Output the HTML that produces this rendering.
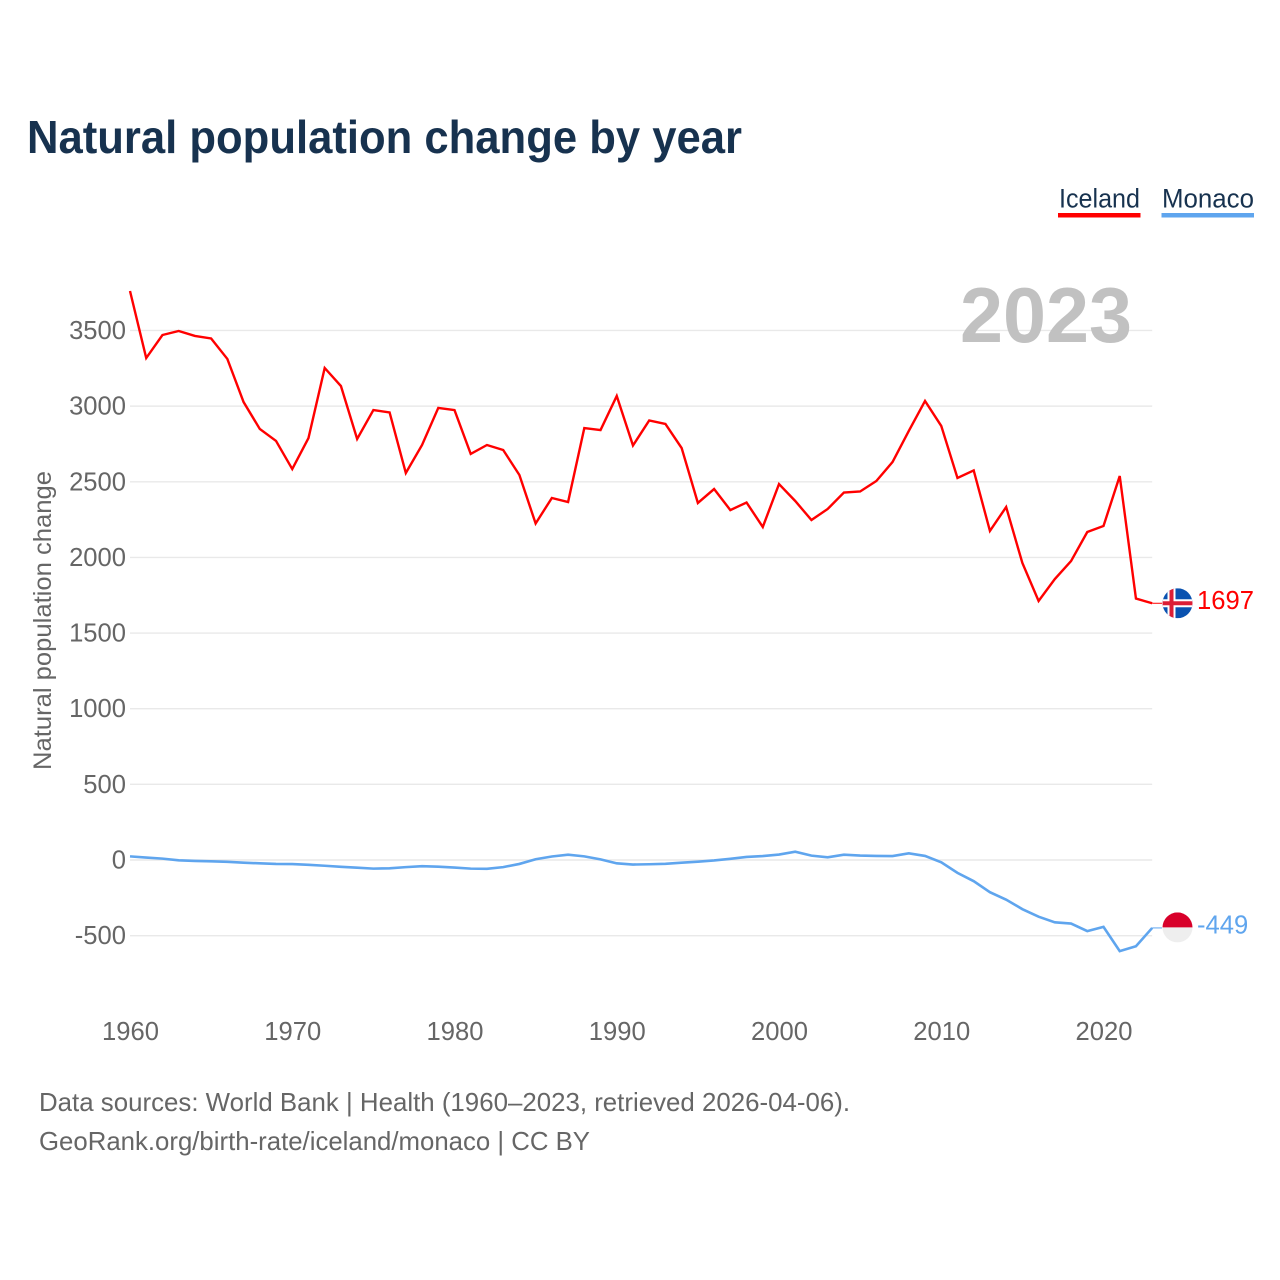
<!DOCTYPE html>
<html lang="en">
<head>
<meta charset="utf-8">
<title>Natural population change by year</title>
<style>
html,body{margin:0;padding:0;background:#fff;}
svg{display:block;font-family:"Liberation Sans",sans-serif;}
</style>
</head>
<body>
<svg id="chart" xmlns="http://www.w3.org/2000/svg" width="1280" height="1280" viewBox="0 0 1280 1280">
  <rect x="0" y="0" width="1280" height="1280" fill="#ffffff"/>
  <text x="27" y="153" font-size="46" font-weight="700" fill="#17324f" textLength="715" lengthAdjust="spacingAndGlyphs">Natural population change by year</text>

  <g>
    <g>
      <text x="1059" y="207.5" font-size="27" fill="#17324f" textLength="81" lengthAdjust="spacingAndGlyphs">Iceland</text>
      <rect x="1058" y="213" width="82.5" height="4.5" fill="#ff0000"/>
    </g>
    <g>
      <text x="1162" y="207.5" font-size="27" fill="#17324f" textLength="92" lengthAdjust="spacingAndGlyphs">Monaco</text>
      <rect x="1161.5" y="213" width="92.5" height="4.5" fill="#5fa5ee"/>
    </g>
  </g>

  <g id="grid"></g>
  <g id="yticks"></g>
  <g id="xticks"></g>

  <text x="1132" y="342" text-anchor="end" font-size="78" font-weight="700" fill="#c1c1c1" textLength="172" lengthAdjust="spacingAndGlyphs">2023</text>

  <text transform="translate(51 770) rotate(-90)" x="0" y="0" font-size="25" fill="#666666" textLength="299" lengthAdjust="spacingAndGlyphs">Natural population change</text>

  <g id="series"></g>

  <defs>
    <clipPath id="flag-clip"><circle cx="0" cy="0" r="15"/></clipPath>
  </defs>

  <g id="flag-iceland">
    <g clip-path="url(#flag-clip)">
      <rect x="-15" y="-15" width="30" height="30" fill="#0a52b0"/>
      <rect x="-15" y="-4" width="30" height="8" fill="#ffffff"/>
      <rect x="-10" y="-15" width="8" height="30" fill="#ffffff"/>
      <rect x="-15" y="-2" width="30" height="4" fill="#dc1e35"/>
      <rect x="-8" y="-15" width="4" height="30" fill="#dc1e35"/>
    </g>
  </g>
  <g id="flag-monaco">
    <g clip-path="url(#flag-clip)">
      <rect x="-15" y="-15" width="30" height="15" fill="#d8002a"/>
      <rect x="-15" y="0" width="30" height="15" fill="#eeeeee"/>
    </g>
  </g>

  <text id="value-iceland" x="1197" font-size="25.6" fill="#ff0000"></text>
  <text id="value-monaco" x="1197" font-size="25.6" fill="#5fa5ee"></text>

  <g>
    <text x="39" y="1111" font-size="26" fill="#666666" textLength="811" lengthAdjust="spacingAndGlyphs">Data sources: World Bank | Health (1960–2023, retrieved 2026-04-06).</text>
    <text x="39" y="1150" font-size="26" fill="#666666" textLength="551" lengthAdjust="spacingAndGlyphs">GeoRank.org/birth-rate/iceland/monaco | CC BY</text>
  </g>
</svg>
<script>
const years = [1960,1961,1962,1963,1964,1965,1966,1967,1968,1969,1970,1971,1972,1973,1974,1975,1976,1977,1978,1979,1980,1981,1982,1983,1984,1985,1986,1987,1988,1989,1990,1991,1992,1993,1994,1995,1996,1997,1998,1999,2000,2001,2002,2003,2004,2005,2006,2007,2008,2009,2010,2011,2012,2013,2014,2015,2016,2017,2018,2019,2020,2021,2022,2023];
const iceland = [3761,3318,3470,3497,3464,3447,3312,3027,2849,2770,2584,2789,3252,3133,2783,2974,2958,2558,2743,2988,2974,2684,2743,2710,2545,2224,2393,2366,2855,2842,3067,2740,2905,2882,2723,2360,2452,2313,2363,2201,2485,2373,2247,2320,2429,2436,2505,2631,2836,3034,2869,2525,2575,2175,2333,1963,1712,1857,1976,2168,2208,2538,1728,1697];
const monaco = [24,16,9,-2,-6,-9,-12,-18,-22,-26,-27,-32,-38,-45,-51,-57,-55,-47,-41,-44,-50,-57,-58,-47,-26,5,23,35,24,4,-22,-30,-28,-25,-18,-11,-3,8,20,26,36,55,29,18,35,29,27,26,44,27,-15,-85,-140,-213,-262,-325,-375,-412,-420,-470,-442,-602,-570,-449];
const yTickValues = [-500,0,500,1000,1500,2000,2500,3000,3500];
const xTickValues = [1960,1970,1980,1990,2000,2010,2020];

const SVG_NS = 'http://www.w3.org/2000/svg';
function xScale(year) { return 130 + (year - 1960) * 16.225; }
function yScale(value) { return 860 - value * 0.15129; }

const gridGroup = document.getElementById('grid');
const yTickGroup = document.getElementById('yticks');
const xTickGroup = document.getElementById('xticks');
const seriesGroup = document.getElementById('series');

yTickValues.forEach(function (v) {
  const line = document.createElementNS(SVG_NS, 'line');
  
  
  line.setAttribute('x1', xScale(1960));
  line.setAttribute('x2', xScale(2023));
  line.setAttribute('y1', yScale(v));
  line.setAttribute('y2', yScale(v));
  line.setAttribute('stroke', '#e9e9e9');
  line.setAttribute('stroke-width', '1.4');
  gridGroup.appendChild(line);

  const label = document.createElementNS(SVG_NS, 'text');
  
  
  label.setAttribute('x', 126);
  label.setAttribute('y', yScale(v) + 8.5);
  label.setAttribute('text-anchor', 'end');
  label.setAttribute('font-size', '25.6');
  label.setAttribute('fill', '#666666');
  label.textContent = String(v);
  yTickGroup.appendChild(label);
});

xTickValues.forEach(function (t) {
  const label = document.createElementNS(SVG_NS, 'text');
  
  
  label.setAttribute('x', xScale(t) + 0.5);
  label.setAttribute('y', 1040);
  label.setAttribute('text-anchor', 'middle');
  label.setAttribute('font-size', '25.6');
  label.setAttribute('fill', '#666666');
  label.textContent = String(t);
  xTickGroup.appendChild(label);
});

function pointsFor(values) {
  return values.map(function (v, i) {
    return xScale(years[i]).toFixed(2) + ',' + yScale(v).toFixed(2);
  }).join(' ');
}

const icelandLine = document.createElementNS(SVG_NS, 'polyline');


icelandLine.setAttribute('points', pointsFor(iceland));
icelandLine.setAttribute('fill', 'none');
icelandLine.setAttribute('stroke', '#ff0000');
icelandLine.setAttribute('stroke-width', '2.4');
icelandLine.setAttribute('stroke-linejoin', 'miter');
seriesGroup.appendChild(icelandLine);

const monacoLine = document.createElementNS(SVG_NS, 'polyline');


monacoLine.setAttribute('points', pointsFor(monaco));
monacoLine.setAttribute('fill', 'none');
monacoLine.setAttribute('stroke', '#5fa5ee');
monacoLine.setAttribute('stroke-width', '2.6');
monacoLine.setAttribute('stroke-linejoin', 'miter');
seriesGroup.appendChild(monacoLine);

const lastIceland = iceland[iceland.length - 1];
const lastMonaco = monaco[monaco.length - 1];
const lastYear = years[years.length - 1];

const icelandLeader = document.createElementNS(SVG_NS, 'line');


icelandLeader.setAttribute('x1', xScale(lastYear));
icelandLeader.setAttribute('x2', 1162);
icelandLeader.setAttribute('y1', yScale(lastIceland));
icelandLeader.setAttribute('y2', yScale(lastIceland));
icelandLeader.setAttribute('stroke', '#ff0000');
icelandLeader.setAttribute('stroke-width', '1');
seriesGroup.appendChild(icelandLeader);

const monacoLeader = document.createElementNS(SVG_NS, 'line');


monacoLeader.setAttribute('x1', xScale(lastYear));
monacoLeader.setAttribute('x2', 1162);
monacoLeader.setAttribute('y1', yScale(lastMonaco));
monacoLeader.setAttribute('y2', yScale(lastMonaco));
monacoLeader.setAttribute('stroke', '#5fa5ee');
monacoLeader.setAttribute('stroke-width', '1');
seriesGroup.appendChild(monacoLeader);

document.getElementById('flag-iceland').setAttribute('transform', 'translate(1177.5 ' + yScale(lastIceland) + ')');
document.getElementById('flag-monaco').setAttribute('transform', 'translate(1177.5 ' + (yScale(lastMonaco) - 0.5) + ')');

const icelandValue = document.getElementById('value-iceland');
icelandValue.setAttribute('y', yScale(lastIceland) + 5.5);
icelandValue.textContent = String(lastIceland);

const monacoValue = document.getElementById('value-monaco');
monacoValue.setAttribute('y', yScale(lastMonaco) + 5.5);
monacoValue.textContent = String(lastMonaco);
</script>
</body>
</html>
